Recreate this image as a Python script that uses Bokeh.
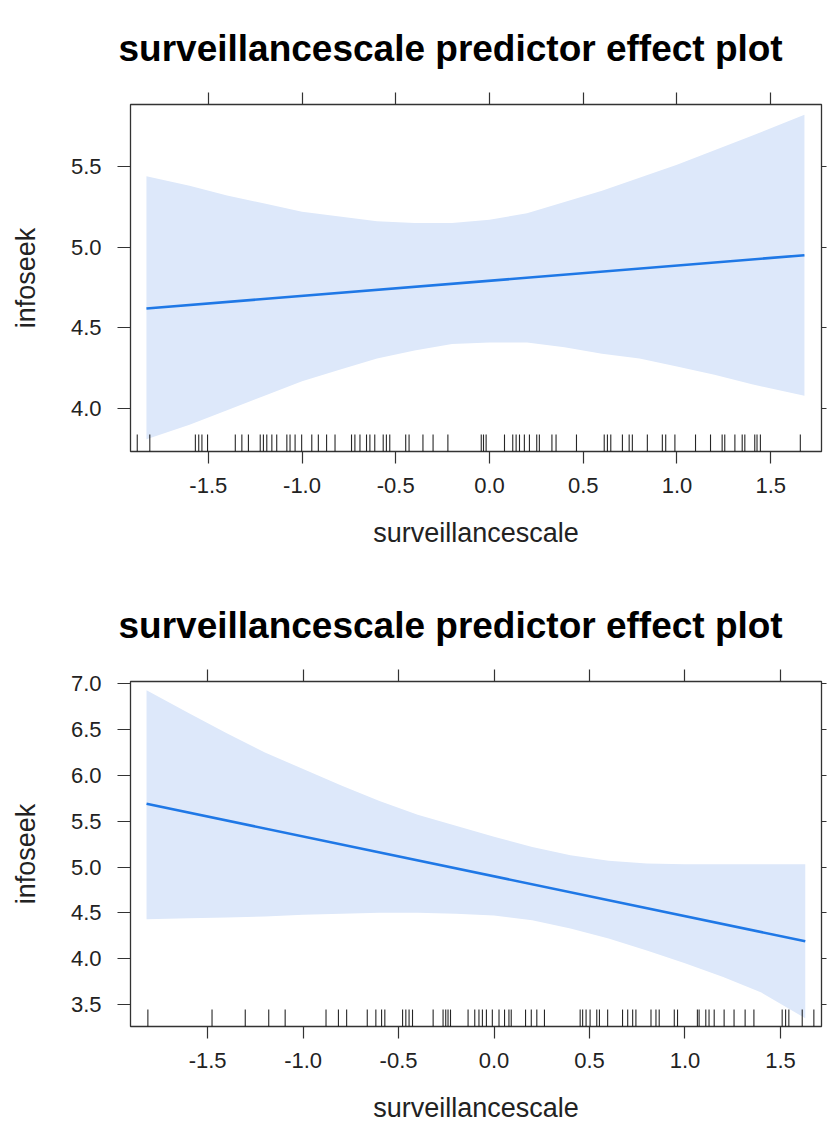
from bokeh.plotting import figure
from bokeh.models import (LinearAxis, FixedTicker, NumeralTickFormatter, Title, Range1d,
                          CustomLabelingPolicy)
from bokeh.layouts import column
from bokeh.embed import file_html
from bokeh.resources import INLINE

title_text = "surveillancescale predictor effect plot"
x_label = "surveillancescale"
y_label = "infoseek"
x_ticks = [-1.5, -1.0, -0.5, 0.0, 0.5, 1.0, 1.5]

# ---- panel 1 (top) ----
y_ticks1 = [4.0, 4.5, 5.0, 5.5]
band1_x = [-1.83, -1.60, -1.40, -1.20, -1.00, -0.80, -0.60, -0.40, -0.20, 0.00,
           0.20, 0.40, 0.60, 0.80, 1.00, 1.20, 1.40, 1.68]
band1_hi = [5.44, 5.38, 5.32, 5.27, 5.22, 5.19, 5.16, 5.15, 5.15, 5.17,
            5.21, 5.28, 5.35, 5.43, 5.51, 5.60, 5.69, 5.82]
band1_lo = [3.81, 3.90, 3.99, 4.08, 4.17, 4.24, 4.31, 4.36, 4.40, 4.41,
            4.41, 4.38, 4.34, 4.31, 4.26, 4.21, 4.15, 4.08]
fit1_x = [-1.83, 1.68]
fit1_y = [4.62, 4.95]
rug1 = [-1.879, -1.812, -1.569, -1.551, -1.534, -1.504, -1.356, -1.321, -1.286,
        -1.223, -1.206, -1.188, -1.161, -1.135, -1.081, -1.064, -1.037, -1.002,
        -0.948, -0.913, -0.869, -0.824, -0.736, -0.718, -0.691, -0.656, -0.638,
        -0.612, -0.567, -0.550, -0.532, -0.447, -0.429, -0.355, -0.301, -0.222,
        -0.044, -0.032, -0.018, 0.080, 0.124, 0.142, 0.160, 0.186, 0.213, 0.252,
        0.266, 0.333, 0.355, 0.464, 0.612, 0.629, 0.647, 0.709, 0.745, 0.762,
        0.842, 0.922, 0.940, 0.989, 1.099, 1.179, 1.241, 1.255, 1.309, 1.348,
        1.362, 1.415, 1.427, 1.445, 1.658]

# ---- panel 2 (bottom) ----
y_ticks2 = [3.5, 4.0, 4.5, 5.0, 5.5, 6.0, 6.5, 7.0]
band2_x = [-1.82, -1.60, -1.40, -1.20, -1.00, -0.80, -0.60, -0.40, -0.20, 0.00,
           0.20, 0.40, 0.60, 0.80, 1.00, 1.20, 1.40, 1.63]
band2_hi = [6.93, 6.68, 6.46, 6.25, 6.07, 5.89, 5.72, 5.57, 5.45, 5.33,
            5.22, 5.13, 5.07, 5.04, 5.03, 5.03, 5.03, 5.03]
band2_lo = [4.43, 4.44, 4.45, 4.46, 4.48, 4.49, 4.50, 4.50, 4.49, 4.47,
            4.42, 4.33, 4.22, 4.09, 3.95, 3.80, 3.63, 3.35]
fit2_x = [-1.82, 1.63]
fit2_y = [5.69, 4.19]
rug2 = [-1.813, -1.477, -1.303, -1.180, -1.094, -0.880, -0.815, -0.772, -0.664,
        -0.619, -0.589, -0.572, -0.479, -0.462, -0.445, -0.427, -0.319, -0.267,
        -0.253, -0.241, -0.228, -0.136, -0.101, -0.079, -0.061, -0.040, -0.009,
        0.026, 0.055, 0.078, 0.090, 0.165, 0.195, 0.224, 0.264, 0.451, 0.464,
        0.482, 0.503, 0.538, 0.552, 0.595, 0.673, 0.700, 0.726, 0.743, 0.822,
        0.848, 0.865, 0.944, 0.961, 1.065, 1.074, 1.109, 1.126, 1.153, 1.205,
        1.257, 1.315, 1.361, 1.509, 1.527, 1.544, 1.614, 1.675]

BAND = "#dde8fa"
LINE = "#1f78e6"
TXT = "#222222"
FONT = "Liberation Sans"


def make_panel(height, xr, yr, y_ticks, bx, blo, bhi, fx, fy, rug, frame_h, bottom_border):
    p = figure(width=830, height=height, x_range=Range1d(*xr), y_range=Range1d(*yr),
               output_backend="svg", toolbar_location=None,
               x_axis_location=None, y_axis_location=None,
               min_border_left=130, min_border_right=7, min_border_top=104,
               min_border_bottom=bottom_border)
    p.grid.visible = False
    p.outline_line_color = "#333333"
    p.outline_line_width = 1.3
    p.background_fill_color = "white"
    p.border_fill_color = "white"

    p.title = Title(text=title_text, align="left", offset=-12,
                    text_font=FONT, text_font_style="bold", text_font_size="37px",
                    text_color="black", standoff=40)

    def axis(ticks, show_labels, label=None, tick_out=12):
        ax = LinearAxis(ticker=FixedTicker(ticks=ticks),
                        formatter=NumeralTickFormatter(format="0.0"))
        ax.axis_line_color = None
        ax.major_tick_line_color = "#333333"
        ax.major_tick_line_width = 1.2
        ax.major_tick_out = tick_out
        ax.major_tick_in = 0
        ax.minor_tick_line_color = None
        if show_labels:
            ax.major_label_text_font = FONT
            ax.major_label_text_font_size = "22px"
            ax.major_label_text_color = TXT
        else:
            ax.major_label_text_font_size = "1px"
            ax.major_label_standoff = 0
            ax.major_label_policy = CustomLabelingPolicy(
                code="for (const i of indices) indices.unset(i); return indices;")
        if label:
            ax.axis_label = label
            ax.axis_label_text_font = FONT
            ax.axis_label_text_font_size = "27px"
            ax.axis_label_text_font_style = "normal"
            ax.axis_label_text_color = TXT
        return ax

    xb = axis(x_ticks, True, x_label)
    xb.major_label_standoff = 14
    xb.axis_label_standoff = 22
    p.add_layout(xb, "below")
    yl = axis(y_ticks, True, y_label, tick_out=13)
    yl.major_label_standoff = 16
    yl.major_label_orientation = "horizontal"
    yl.axis_label_standoff = 27
    p.add_layout(yl, "left")
    p.add_layout(axis(x_ticks, False, tick_out=12), "above")
    p.add_layout(axis(y_ticks, False, tick_out=5), "right")

    p.varea(x=bx, y1=blo, y2=bhi, fill_color=BAND, fill_alpha=1.0)
    p.line(x=fx, y=fy, line_color=LINE, line_width=2.6)

    rug_len = 17 * (yr[1] - yr[0]) / frame_h
    p.segment(x0=rug, y0=[yr[0]] * len(rug), x1=rug, y1=[yr[0] + rug_len] * len(rug),
              line_color="black", line_width=1.1, line_alpha=0.85)
    return p


p1 = make_panel(577, (-1.915, 1.771), (3.734, 5.884), y_ticks1,
                band1_x, band1_lo, band1_hi, fit1_x, fit1_y, rug1, 347, 126)
p2 = make_panel(548, (-1.904, 1.715), (3.26, 7.025), y_ticks2,
                band2_x, band2_lo, band2_hi, fit2_x, fit2_y, rug2, 346, 98)

layout = column(p1, p2, spacing=0)
open("out.html", "w").write(file_html(layout, INLINE))
